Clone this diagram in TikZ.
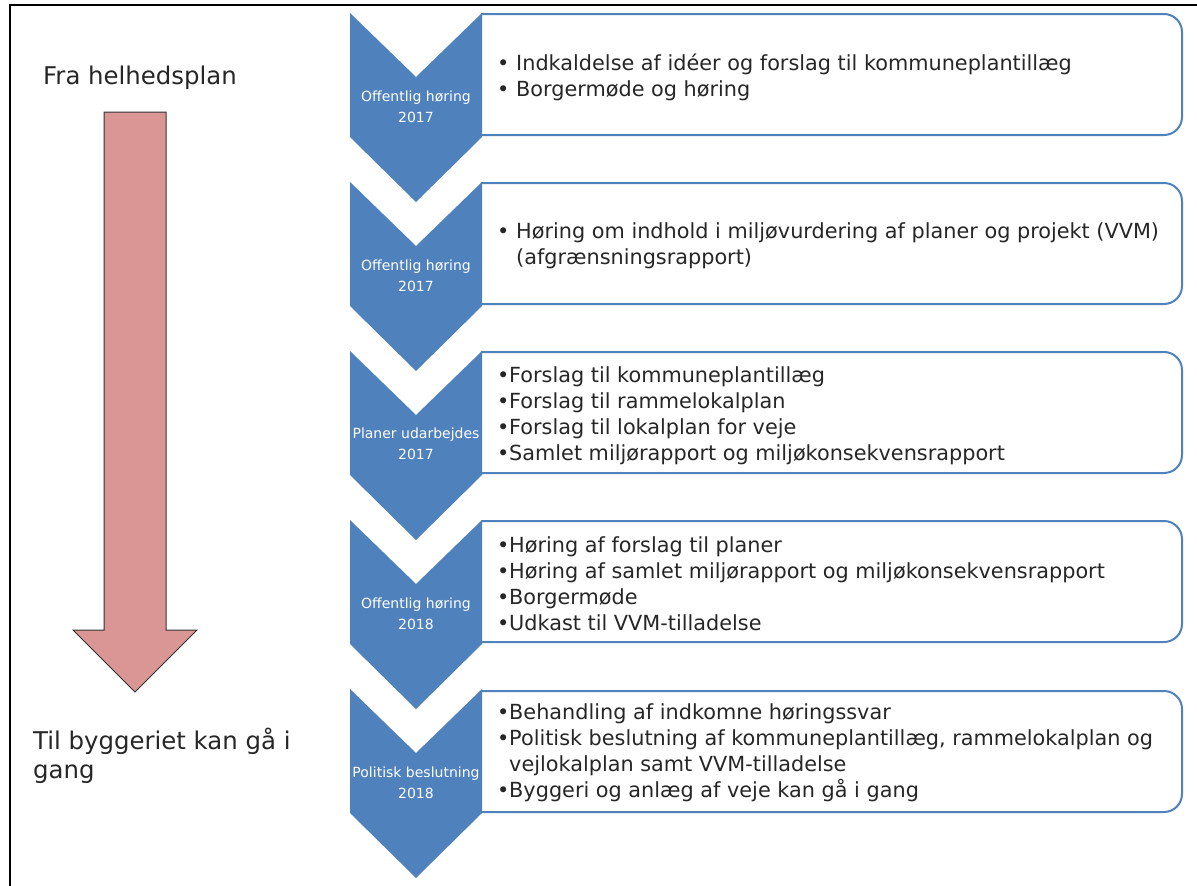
\documentclass[tikz,border=0pt]{standalone}
\usepackage{fontspec}
\setmainfont{DejaVu Sans}
\usetikzlibrary{positioning}
\definecolor{stepblue}{HTML}{4F81BD}
\definecolor{arrowpink}{HTML}{D99694}
\newcommand{\itm}{\makebox[12pt][l]{\textbullet}}
\newcommand{\itmw}{\makebox[19pt][l]{\textbullet}}
\newcommand{\cont}{\hspace*{12pt}}

\begin{document}
\begin{tikzpicture}[x=1pt, y=-1pt,
	boxline/.style = {draw=stepblue, line width=2pt, rounded corners=18pt},
	chev/.style = {fill=stepblue},
	lab/.style = {text=white, font=\fontsize{14}{21}\selectfont, align=center},
	items/.style = {text=black!85, font=\fontsize{20.8}{26}\selectfont, align=left, anchor=west, inner sep=0pt},
	side/.style = {text=black!85, font=\fontsize{24.4}{29}\selectfont, align=left, anchor=west, inner sep=0pt}]
	\useasboundingbox (0,0) rectangle (1197,886);
	\draw[line width=2pt] (1197,5) -- (9.5,5) -- (9.5,886);

	% boxes behind the chevrons (left side hidden)
	\foreach \y in {14,183,352,521,691}
		\draw[boxline] (481,\y) -- (1182,\y) -- (1182,\y+121) -- (481,\y+121);

	% chevrons
	\foreach \y in {13,182,351,520,689}
		\fill[chev] (350,\y) -- (416,\y+64) -- (482,\y) -- (482,\y+124) -- (416,\y+189) -- (350,\y+124) -- cycle;

	\node[lab] (c1) at (416,107) {Offentlig høring\\2017};
	\node[lab] (c2) at (416,276) {Offentlig høring\\2017};
	\node[lab] (c3) at (416,444) {Planer udarbejdes\\2017};
	\node[lab] (c4) at (416,614) {Offentlig høring\\2018};
	\node[lab] (c5) at (416,783) {Politisk beslutning\\2018};

	\node[items] (t1) at (497,77) {\itmw Indkaldelse af idéer og forslag til kommuneplantillæg\\ \itmw Borgermøde og høring};
	\node[items] (t2) at (497,246) {\itmw Høring om indhold i miljøvurdering af planer og projekt (VVM)\\ \hspace*{19pt}(afgrænsningsrapport)};
	\node[items] (t3) at (497,416) {\itm Forslag til kommuneplantillæg\\ \itm Forslag til rammelokalplan\\ \itm Forslag til lokalplan for veje\\ \itm Samlet miljørapport og miljøkonsekvensrapport};
	\node[items] (t4) at (497,584) {\itm Høring af forslag til planer\\ \itm Høring af samlet miljørapport og miljøkonsekvensrapport\\ \itm Borgermøde\\ \itm Udkast til VVM-tilladelse};
	\node[items] (t5) at (497,753) {\itm Behandling af indkomne høringssvar\\ \itm Politisk beslutning af kommuneplantillæg, rammelokalplan og\\ \cont vejlokalplan samt VVM-tilladelse\\ \itm Byggeri og anlæg af veje kan gå i gang};

	% big arrow on the left
	\draw[fill=arrowpink, draw=black!80, line width=1pt] (104,112) -- (166,112) -- (166,630) -- (197,630) -- (135,692) -- (73,630) -- (104,630) -- cycle;
	\node[side] (fra) at (43,78) {Fra helhedsplan};
	\node[side] (til) at (33,756) {Til byggeriet kan gå i\\gang};
\end{tikzpicture}
\end{document}
